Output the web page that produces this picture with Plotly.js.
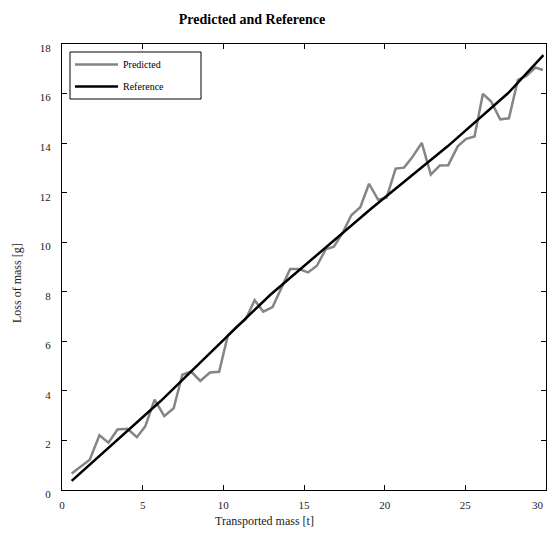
<!DOCTYPE html>
<html>
<head>
<meta charset="utf-8">
<script src="https://cdn.plot.ly/plotly-3.0.1.min.js"></script>
<style>html,body{margin:0;padding:0;background:#fff;}#chart{width:547px;height:533px;}</style>
</head>
<body>
<div id="chart"></div>
<script>
// Predicted series (transported mass [t], loss of mass [g])
const predX = [0.6, 1.17, 1.72, 2.32, 2.88, 3.44, 4.06, 4.64, 5.16, 5.74,
  6.34, 6.92, 7.46, 8.0, 8.57, 9.17, 9.74, 10.28, 10.83, 11.38,
  11.94, 12.48, 13.05, 13.6, 14.14, 14.68, 15.25, 15.8, 16.34, 16.85,
  17.43, 17.93, 18.49, 19.03, 19.59, 20.12, 20.68, 21.2, 21.72, 22.3,
  22.86, 23.42, 23.94, 24.53, 25.05, 25.57, 26.09, 26.6, 27.16, 27.7,
  28.26, 28.78, 29.34, 29.81];
const predY = [0.67, 0.95, 1.22, 2.21, 1.91, 2.44, 2.47, 2.13, 2.57, 3.65,
  2.98, 3.3, 4.65, 4.78, 4.4, 4.74, 4.77, 6.24, 6.6, 6.88,
  7.66, 7.2, 7.38, 8.15, 8.92, 8.92, 8.78, 9.05, 9.71, 9.82,
  10.42, 11.09, 11.41, 12.36, 11.72, 11.8, 12.97, 13.01, 13.44, 14.01,
  12.73, 13.1, 13.11, 13.87, 14.17, 14.27, 15.99, 15.68, 14.96, 15.0,
  16.55, 16.71, 17.05, 16.95];
// Reference series (breakpoints of the polyline)
const refX = [0.6, 4.1, 6.1, 10.0, 12.9, 19.1, 23.9, 27.64, 29.84];
const refY = [0.37, 2.4, 3.58, 6.05, 7.87, 11.32, 13.87, 16.01, 17.55];

// Tick values / labels
const xTickVals = [0, 5, 10, 15, 20, 25, 30];
const xTickText = ['0', '5', '10', '15', '20', '25', '30'];

const titleText = 'Predicted and Reference';
const xLabel = 'Transported mass [t]';
const yLabel = 'Loss of mass [g]';
const names = ['Predicted', 'Reference'];

const serif = 'Liberation Serif, Times New Roman, serif';

const traces = [
  {x: predX, y: predY, mode: 'lines', name: names[0], legendgroup: 'a',
   line: {color: '#858585', width: 2.5}},
  {x: refX, y: refY, mode: 'lines', name: names[1], legendgroup: 'b',
   line: {color: '#000000', width: 2.5}}
];

const W = 547, H = 533, L = 62, R = 1, T = 44, B = 43;
const pw = W - L - R, ph = H - T - B;
function px2x(p){ return (p - L) / pw; }
function py2y(p){ return (H - B - p) / ph; }

const tickFont = {family: serif, size: 11, color: '#222'};
const axisCommon = {
  showline: true, linecolor: '#000', linewidth: 1, mirror: 'ticks',
  ticks: 'inside', ticklen: 5, tickcolor: '#000', tickwidth: 1,
  showgrid: false, zeroline: false,
  tickfont: tickFont
};

// last x tick label sits at the right edge: draw it as an annotation nudged inward
const lastIdx = xTickText.length - 1;
const shownText = xTickText.map((t, i) => i === lastIdx ? '' : t);

const layout = {
  width: W, height: H,
  margin: {l: L, r: R, t: T, b: B, pad: 0},
  paper_bgcolor: '#fff', plot_bgcolor: '#fff',
  title: {text: '<b>' + titleText + '</b>', font: {family: serif, size: 14, color: '#000'},
          x: 252 / W, xref: 'container', xanchor: 'center',
          y: 1 - 19 / H, yref: 'container', yanchor: 'middle'},
  xaxis: Object.assign({}, axisCommon, {range: [0, 30], tickmode: 'array',
          tickvals: xTickVals, ticktext: shownText, ticklabelstandoff: 5}),
  yaxis: Object.assign({}, axisCommon, {range: [0, 18], dtick: 2, tick0: 0, ticklabelstandoff: 8, ticklabelshift: 4}),
  showlegend: true,
  legend: {x: px2x(70), y: py2y(50), xanchor: 'left', yanchor: 'top',
           bgcolor: 'rgba(0,0,0,0)', borderwidth: 0, itemwidth: 43,
           font: {family: serif, size: 10, color: '#000'},
           traceorder: 'grouped', tracegroupgap: 3},
  shapes: [{type: 'rect', xref: 'paper', yref: 'paper',
            x0: px2x(70), x1: px2x(201), y0: py2y(99), y1: py2y(52),
            line: {color: '#000', width: 1}, fillcolor: '#fff', layer: 'below'}],
  annotations: [
    {text: xTickText[lastIdx], xref: 'paper', yref: 'paper', x: px2x(546), y: py2y(505),
     xanchor: 'right', yanchor: 'middle', showarrow: false, font: tickFont},
    {text: xLabel, xref: 'paper', yref: 'paper', x: px2x(264), y: py2y(521),
     xanchor: 'center', yanchor: 'middle', showarrow: false,
     font: {family: serif, size: 12, color: '#222'}},
    {text: yLabel, xref: 'paper', yref: 'paper', x: px2x(17), y: py2y(283),
     xanchor: 'center', yanchor: 'middle', showarrow: false, textangle: -90,
     font: {family: serif, size: 12, color: '#222'}}
  ]
};

Plotly.newPlot('chart', traces, layout, {displayModeBar: false, staticPlot: true});
</script>
</body>
</html>
